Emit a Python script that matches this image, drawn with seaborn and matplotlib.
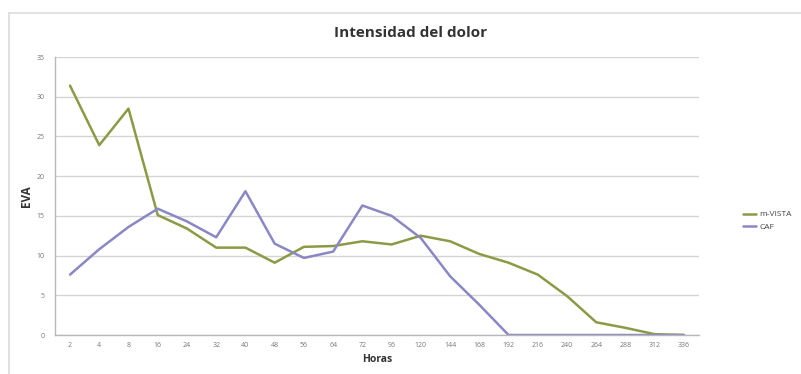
import matplotlib
matplotlib.use("Agg")
import matplotlib.pyplot as plt
import seaborn as sns
import pandas as pd
from matplotlib.lines import Line2D

horas = ["2", "4", "8", "16", "24", "32", "40", "48", "56", "64", "72", "96",
         "120", "144", "168", "192", "216", "240", "264", "288", "312", "336"]
m_vista = [31.4, 23.9, 28.5, 15.1, 13.4, 11.0, 11.0, 9.1, 11.1, 11.2, 11.8, 11.4,
           12.5, 11.8, 10.2, 9.1, 7.6, 4.9, 1.6, 0.9, 0.1, 0.0]
caf = [7.6, 10.8, 13.6, 15.9, 14.3, 12.3, 18.1, 11.5, 9.7, 10.5, 16.3, 15.0,
       12.2, 7.4, 3.8, 0.0, 0.0, 0.0, 0.0, 0.0, 0.0, 0.0]
series = ["m-VISTA", "CAF"]
colors = ["#8c9a45", "#8a88c4"]

df = pd.DataFrame({
    "Horas": horas * 2,
    "EVA": m_vista + caf,
    "Serie": [series[0]] * len(horas) + [series[1]] * len(horas),
})

sns.set_style("white")
plt.rcParams["font.family"] = ["Open Sans", "DejaVu Sans"]

fig = plt.figure(figsize=(8.01, 3.74), dpi=100)
ax = fig.add_axes([55.4 / 801, 1 - 335 / 374, (698.6 - 55.4) / 801, (335 - 57) / 374])

sns.lineplot(data=df, x="Horas", y="EVA", hue="Serie", palette=colors,
             sort=False, linewidth=1.8, ax=ax, legend=False)

ax.set_xlim(-0.5, len(horas) - 0.5)
ax.set_ylim(0, 35)
ax.set_yticks(range(0, 36, 5))
ax.yaxis.grid(True, color="#d4d4d4", linewidth=1.0)
ax.set_axisbelow(True)
for side in ["top", "right"]:
    ax.spines[side].set_visible(False)
for side in ["left", "bottom"]:
    ax.spines[side].set_color("#b8b8b8")
    ax.spines[side].set_linewidth(1.0)
ax.tick_params(axis="both", labelsize=5, colors="#777777", length=3, width=0.8,
               direction="out", pad=5)
ax.tick_params(axis="x", length=0)

ax.set_xlabel("Horas", fontsize=7.5, fontweight="bold", color="#333333", labelpad=4)
ax.set_ylabel("EVA", fontsize=8.5, fontweight="bold", color="#333333", labelpad=2)

fig.text(0.512, 1 - 33 / 374, "Intensidad del dolor", ha="center", va="center",
         fontsize=11, fontweight="bold", color="#333333")

handles = [Line2D([0], [0], color=c, linewidth=1.8) for c in colors]
fig.legend(handles, series, loc="center left", bbox_to_anchor=(735 / 801, 1 - 221 / 374),
           frameon=False, fontsize=6, handlelength=1.6, handletextpad=0.4,
           labelspacing=0.6, labelcolor="#444444")

# frame around the chart area
fig.add_artist(Line2D([9 / 801, 1], [1 - 13 / 374, 1 - 13 / 374], color="#dcdcdc",
                      linewidth=1.2, transform=fig.transFigure))
fig.add_artist(Line2D([9 / 801, 9 / 801], [0, 1 - 13 / 374], color="#dcdcdc",
                      linewidth=1.2, transform=fig.transFigure))

fig.savefig("out.png", dpi=100)
